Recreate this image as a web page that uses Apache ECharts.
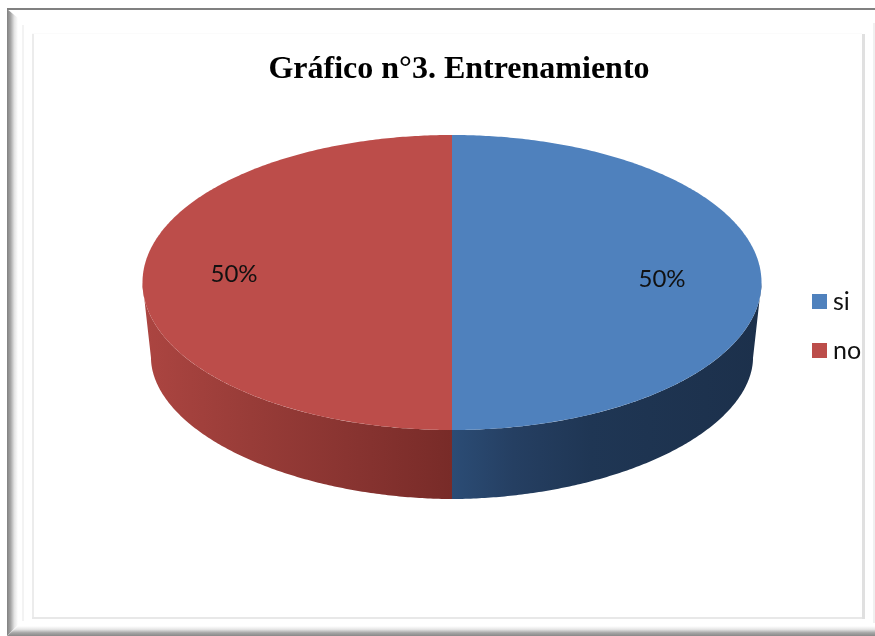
<!DOCTYPE html>
<html>
<head>
<meta charset="utf-8">
<style>html,body{margin:0;padding:0;background:#fff}#c{width:875px;height:636px}</style>
<script src="https://cdn.jsdelivr.net/npm/echarts@6/dist/echarts.min.js"></script>
</head>
<body>
<div id="c"></div>
<script>
const chartTitle = 'Gráfico n°3. Entrenamiento';
const categories = ['si', 'no'];
const shares = [50, 50];

const topColors = ['#4F81BD', '#BC4D4A'];
const sideStops = [
  [[0, '#2B4C75'], [0.2, '#253F62'], [0.45, '#1F3654'], [1, '#1C304B']],
  [[0, '#AC4541'], [0.35, '#983C38'], [0.7, '#873330'], [1, '#782B28']]
];
// Label anchor relative to the pie centre, one per slice
const labelOffsets = [[210, -3], [-218, -8]];

// Top face, and the slightly narrower base outline seen through perspective
const pie = { cx: 452, cy: 282.5, rx: 309.5, ry: 147.5 };
const base = { cy: 358, rx: 301, ry: 141, exponent: 1.92 };
const total = shares.reduce((a, b) => a + b, 0);

function sweep(from, to, pointAt) {
  const n = Math.max(2, Math.ceil(Math.abs(to - from) / 0.01));
  const out = [];
  for (let i = 0; i <= n; i++) out.push(pointAt(from + (to - from) * i / n));
  return out;
}
function topPoint(t) {
  return [pie.cx + pie.rx * Math.cos(t), pie.cy + pie.ry * Math.sin(t)];
}
function basePoint(t) {
  const power = 2 / base.exponent;
  const c = Math.cos(t), s = Math.sin(t);
  return [
    pie.cx + base.rx * Math.sign(c) * Math.pow(Math.abs(c), power),
    base.cy + base.ry * Math.sign(s) * Math.pow(Math.abs(s), power)
  ];
}

// One extruded elliptical slice: rim wall for the front-facing part, then top face and label
function sliceRenderer(index) {
  return function () {
    const before = shares.slice(0, index).reduce((a, b) => a + b, 0);
    const start = -Math.PI / 2 + before / total * 2 * Math.PI;
    const end = start + shares[index] / total * 2 * Math.PI;
    const children = [];

    const wallFrom = Math.max(start, 0);
    const wallTo = Math.min(end, Math.PI);
    if (wallTo > wallFrom) {
      children.push({
        type: 'polygon',
        shape: { points: sweep(wallFrom, wallTo, topPoint).concat(sweep(wallTo, wallFrom, basePoint)) },
        style: {
          fill: new echarts.graphic.LinearGradient(0, 0, 1, 0,
            sideStops[index].map(s => ({ offset: s[0], color: s[1] })))
        },
        silent: true
      });
    }

    children.push({
      type: 'polygon',
      shape: { points: [[pie.cx, pie.cy]].concat(sweep(start, end, topPoint)) },
      style: { fill: topColors[index] },
      silent: true
    });

    children.push({
      type: 'text',
      z2: 10,
      style: {
        text: Math.round(shares[index] / total * 100) + '%',
        x: pie.cx + labelOffsets[index][0],
        y: pie.cy + labelOffsets[index][1],
        align: 'center',
        verticalAlign: 'middle',
        font: '24px Lato',
        fill: '#111'
      },
      silent: true
    });
    return { type: 'group', children };
  };
}

// Bevelled picture-style frame around the chart
function band(points, colors, x0, y0, x1, y1) {
  return {
    type: 'polygon',
    silent: true,
    shape: { points },
    style: {
      fill: new echarts.graphic.LinearGradient(x0, y0, x1, y1,
        colors.map((c, i) => ({ offset: i / (colors.length - 1), color: c })))
    }
  };
}
function line(x, y, w, h, color) {
  return { type: 'rect', silent: true, shape: { x, y, width: w, height: h }, style: { fill: color } };
}
const frame = [
  band([[7, 9], [18, 18], [18, 625], [7, 636]], ['#808080', '#a6a6a6', '#e4e4e4', '#ffffff'], 0, 0, 1, 0),
  band([[7, 636], [18, 626], [875, 626], [875, 636]], ['#ffffff', '#e6e6e6', '#a8a8a8', '#888888'], 0, 0, 0, 1),
  line(7, 8, 868, 2, '#808080'),
  line(22, 25, 2, 596, '#f3f3f3'),
  line(32, 34, 2, 585, '#ececec'),
  line(32, 33, 830, 1, '#fbfbfb'),
  line(32, 617, 832, 2, '#e8e8e8'),
  line(862, 34, 3, 585, '#e0e0e0'),
  line(873, 23, 2, 600, '#f0f0f0')
];

const chart = echarts.init(document.getElementById('c'), null, { renderer: 'canvas' });
chart.setOption({
  animation: false,
  backgroundColor: '#ffffff',
  color: topColors,
  title: {
    text: chartTitle,
    left: 454,
    top: 49,
    textAlign: 'center',
    textStyle: { fontFamily: '"Liberation Serif"', fontWeight: 'bold', fontSize: 32, color: '#000' }
  },
  legend: {
    orient: 'vertical',
    left: 812,
    top: 289,
    padding: 0,
    itemWidth: 15,
    itemHeight: 15,
    itemGap: 24,
    icon: 'rect',
    selectedMode: false,
    data: categories,
    textStyle: { fontFamily: 'Lato', fontSize: 25, color: '#111', padding: [0, 0, 0, 1] }
  },
  graphic: { elements: frame },
  series: categories.map((name, i) => ({
    type: 'custom',
    name,
    coordinateSystem: 'none',
    silent: true,
    itemStyle: { color: topColors[i] },
    renderItem: sliceRenderer(i),
    data: [shares[i]]
  }))
});
</script>
</body>
</html>
